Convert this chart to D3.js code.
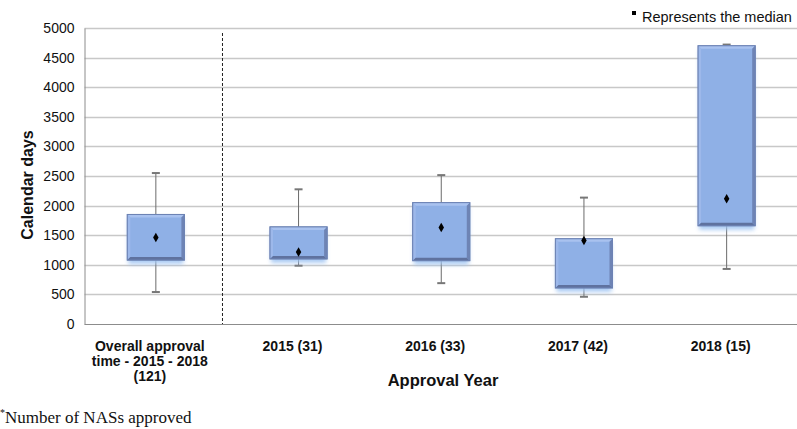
<!DOCTYPE html>
<html><head><meta charset="utf-8">
<script src="https://cdn.jsdelivr.net/npm/d3@7"></script>
<style>html,body{margin:0;padding:0;background:#fff;}svg{display:block;}</style>
</head><body>
<svg id="chart" width="797" height="429"></svg>
<script>
const categories = ["Overall approval|time - 2015 - 2018|(121)", "2015 (31)", "2016 (33)", "2017 (42)", "2018 (15)"];
const minVals    = [540, 985, 690, 460, 930];
const q1Vals     = [1080, 1100, 1070, 610, 1660];
const medianVals = [1460, 1215, 1630, 1410, 2115];
const q3Vals     = [1850, 1640, 2050, 1440, 4700];
const maxVals    = [2550, 2275, 2515, 2135, 4720];
const yTicks     = [0, 500, 1000, 1500, 2000, 2500, 3000, 3500, 4000, 4500, 5000];

const svg = d3.select("#chart");
const font = "'Liberation Sans', Arial, sans-serif";

const x = d3.scaleBand().domain(categories).range([84.5, 798]).padding(0);
const y = d3.scaleLinear().domain([0, 5000]).range([324, 28]);
const bw = x.bandwidth() * 0.4;

const defs = svg.append("defs");
defs.append("filter").attr("id", "glow").attr("x", "-20%").attr("y", "-20%").attr("width", "140%").attr("height", "140%")
  .append("feGaussianBlur").attr("stdDeviation", 2);

// gridlines
svg.append("g").selectAll("line").data(yTicks.filter(d => d > 0)).join("line")
  .attr("x1", 84.5).attr("x2", 797).attr("y1", d => Math.round(y(d)) + 0.5).attr("y2", d => Math.round(y(d)) + 0.5)
  .attr("stroke", "#c8c8c8").attr("stroke-width", 1.5);

// y axis
const yAxis = svg.append("g").attr("transform", "translate(84.5,0)")
  .call(d3.axisLeft(y).tickValues(yTicks).tickSize(0).tickPadding(10).tickFormat(d3.format("d")));
yAxis.select(".domain").attr("stroke", "#8c8c8c");
yAxis.selectAll("text").attr("font-family", font).attr("font-size", 14).attr("fill", "#111");

// x axis line
svg.append("line").attr("x1", 84.5).attr("x2", 797).attr("y1", 324.5).attr("y2", 324.5).attr("stroke", "#8c8c8c");

// dashed separator
svg.append("line")
  .attr("x1", x(categories[0]) + x.bandwidth() * 0.967).attr("x2", x(categories[0]) + x.bandwidth() * 0.967)
  .attr("y1", 33).attr("y2", 324).attr("stroke", "#222").attr("stroke-dasharray", "3,2").attr("stroke-width", 1);

// boxes
const data = categories.map((c, i) => ({c, min: minVals[i], q1: q1Vals[i], med: medianVals[i], q3: q3Vals[i], max: maxVals[i]}));
const g = svg.append("g").selectAll("g").data(data).join("g");
const cx = d => x(d.c) + x.bandwidth() / 2;

// whiskers
g.append("line").attr("x1", cx).attr("x2", cx).attr("y1", d => y(d.max)).attr("y2", d => y(d.q3)).attr("stroke", "#6b6b6b");
g.append("line").attr("x1", cx).attr("x2", cx).attr("y1", d => y(d.q1)).attr("y2", d => y(d.min)).attr("stroke", "#6b6b6b");
g.append("line").attr("x1", d => cx(d) - 4).attr("x2", d => cx(d) + 4).attr("y1", d => y(d.max)).attr("y2", d => y(d.max)).attr("stroke", "#777").attr("stroke-width", 2);
g.append("line").attr("x1", d => cx(d) - 4).attr("x2", d => cx(d) + 4).attr("y1", d => y(d.min)).attr("y2", d => y(d.min)).attr("stroke", "#777").attr("stroke-width", 2);

// glow under box
g.append("rect").attr("x", d => cx(d) - bw / 2 + 1).attr("width", bw - 2)
  .attr("y", d => y(d.q3) + 4).attr("height", d => y(d.q1) - y(d.q3))
  .attr("fill", "#9cc2f2").attr("opacity", 0.85).attr("filter", "url(#glow)");

// main box
g.append("rect").attr("x", d => cx(d) - bw / 2).attr("width", bw)
  .attr("y", d => y(d.q3)).attr("height", d => y(d.q1) - y(d.q3))
  .attr("fill", "#8fb0e6").attr("stroke", "#6d83b4").attr("stroke-width", 1);

// bevel: top/left light, right/bottom dark
const bev = 3;
g.append("path").attr("fill", "#a9c2ef").attr("d", d => {
  const l = cx(d) - bw / 2, r = cx(d) + bw / 2, t = y(d.q3);
  return `M${l},${t}L${r},${t}L${r - bev},${t + bev}L${l + bev},${t + bev}Z`;
});
g.append("path").attr("fill", "#9db8ea").attr("d", d => {
  const l = cx(d) - bw / 2, t = y(d.q3), b = y(d.q1);
  return `M${l},${t}L${l + bev},${t + bev}L${l + bev},${b - bev}L${l},${b}Z`;
});
g.append("path").attr("fill", "#6e84b5").attr("d", d => {
  const r = cx(d) + bw / 2, t = y(d.q3), b = y(d.q1);
  return `M${r},${t}L${r},${b}L${r - bev},${b - bev}L${r - bev},${t + bev}Z`;
});
g.append("path").attr("fill", "#5f729f").attr("d", d => {
  const l = cx(d) - bw / 2, r = cx(d) + bw / 2, b = y(d.q1);
  return `M${l},${b}L${r},${b}L${r - bev},${b - bev}L${l + bev},${b - bev}Z`;
});
g.append("rect").attr("x", d => cx(d) - bw / 2).attr("width", bw)
  .attr("y", d => y(d.q3)).attr("height", d => y(d.q1) - y(d.q3))
  .attr("fill", "none").attr("stroke", "#6d83b4").attr("stroke-width", 1);

// median diamonds
g.append("path").attr("d", d3.symbol().type(d3.symbolDiamond).size(26))
  .attr("transform", d => `translate(${cx(d)},${y(d.med)})`).attr("fill", "#000");

// category labels
const lab = svg.append("g").selectAll("text").data(categories).join("text")
  .attr("x", d => x(d) + x.bandwidth() / 2 - 6).attr("y", 351)
  .attr("text-anchor", "middle").attr("font-family", font).attr("font-weight", "bold")
  .attr("font-size", 14).attr("fill", "#111");
lab.each(function(d) {
  const parts = d.split("|");
  const t = d3.select(this);
  parts.forEach((p, i) => t.append("tspan").attr("x", t.attr("x")).attr("dy", i === 0 ? 0 : 15).text(p));
});

// axis titles
svg.append("text").attr("x", 443).attr("y", 386).attr("text-anchor", "middle")
  .attr("font-family", font).attr("font-weight", "bold").attr("font-size", 16.5).attr("fill", "#111").text("Approval Year");
svg.append("text").attr("transform", "translate(33,185) rotate(-90)").attr("text-anchor", "middle")
  .attr("font-family", font).attr("font-weight", "bold").attr("font-size", 16).attr("fill", "#111").text("Calendar days");

// legend
svg.append("rect").attr("x", 632).attr("y", 11).attr("width", 4).attr("height", 4).attr("fill", "#000");
svg.append("text").attr("x", 642).attr("y", 22).attr("font-family", font).attr("font-size", 14.5).attr("fill", "#111").text("Represents the median");

// footnote
const fn = svg.append("text").attr("x", 0).attr("y", 423).attr("font-family", "'Liberation Serif', 'Times New Roman', serif").attr("font-size", 17).attr("fill", "#111");
fn.append("tspan").attr("font-size", 10).attr("dy", -7).text("*");
fn.append("tspan").attr("dy", 7).text("Number of NASs approved");
</script>
</body></html>
